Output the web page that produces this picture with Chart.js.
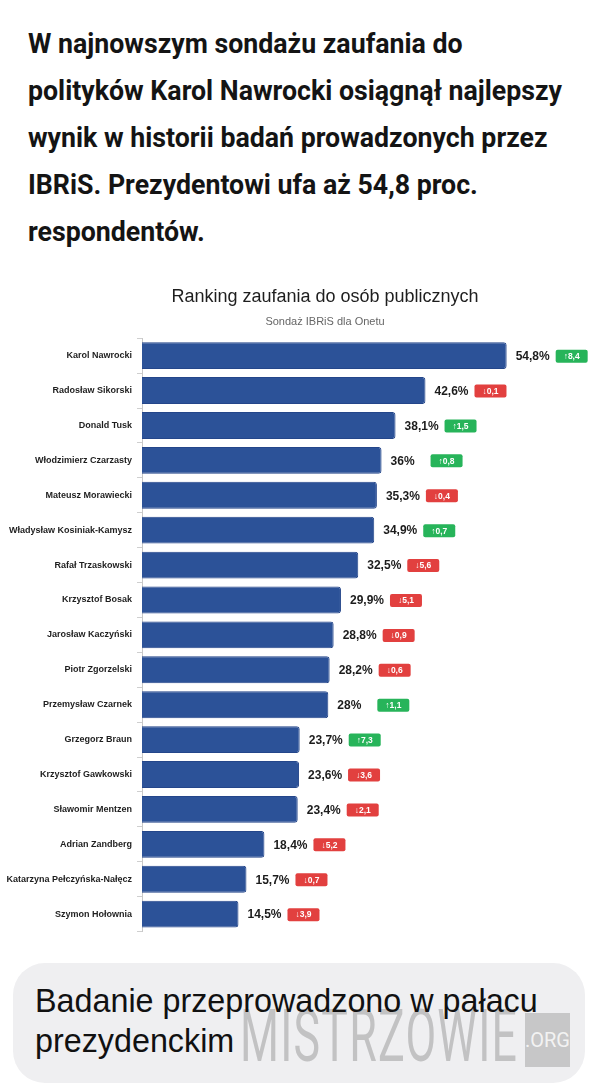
<!doctype html>
<html>

<head>
	<meta charset="utf-8">
	<title>Ranking zaufania do osób publicznych</title>
	<script src="https://cdn.jsdelivr.net/npm/chart.js@4/dist/chart.umd.min.js"></script>
	<style>
		html, body {
			margin: 0;
			padding: 0;
			background: #fff;
			width: 600px;
			height: 1091px;
			overflow: hidden;
			position: relative;
		}
		#hdr {
			position: absolute;
			left: 28px;
			top: 20px;
			font-family: Roboto, "Liberation Sans", sans-serif;
			font-weight: 700;
			font-size: 28px;
			line-height: 47px;
			color: #141414;
			transform-origin: 0 0;
		}
		#hdr div, #note div {
			width: max-content;
			white-space: nowrap;
		}
		#chartBox {
			position: absolute;
			left: 0;
			top: 270px;
			width: 600px;
			height: 672px;
		}
		#note {
			position: absolute;
			left: 13px;
			top: 963px;
			width: 572px;
			height: 120px;
			border-radius: 32px;
			background: #efeff1;
			overflow: hidden;
		}
		#noteText {
			position: absolute;
			left: 22px;
			top: 18px;
			font-family: "Liberation Sans", Arial, sans-serif;
			font-size: 31px;
			line-height: 40px;
			color: #111;
		}
		#wm {
			position: absolute;
			left: 227px;
			top: 44px;
			font-family: Roboto, sans-serif;
			font-size: 72px;
			line-height: 60px;
			color: rgba(140, 140, 140, 0.45);
			transform: scaleX(0.62);
			transform-origin: 0 0;
			letter-spacing: 2px;
		}
		#wmOrg {
			position: absolute;
			left: 512px;
			top: 50px;
			width: 50px;
			height: 54px;
			background: rgba(150, 150, 150, 0.45);
			color: rgba(255, 255, 255, 0.8);
			font-family: Roboto, sans-serif;
			font-size: 20px;
			line-height: 54px;
			text-align: center;
		}
	</style>
</head>

<body>
	<div id="hdr">
		<div id="l1">W najnowszym sondażu zaufania do</div>
		<div id="l2">polityków Karol Nawrocki osiągnął najlepszy</div>
		<div>wynik w historii badań prowadzonych przez</div>
		<div>IBRiS. Prezydentowi ufa aż 54,8 proc.</div>
		<div>respondentów.</div>
	</div>
	<div id="chartBox">
		<canvas id="canvas"></canvas>
	</div>
	<div id="note">
		<div id="wm">MISTRZOWIE</div>
		<div id="wmOrg">.ORG</div>
		<div id="noteText">
			<div id="n1">Badanie przeprowadzono w pałacu</div>
			<div>prezydenckim</div>
		</div>
	</div>
	<script>
		var people = [
			'Karol Nawrocki', 'Radosław Sikorski', 'Donald Tusk', 'Włodzimierz Czarzasty',
			'Mateusz Morawiecki', 'Władysław Kosiniak-Kamysz', 'Rafał Trzaskowski', 'Krzysztof Bosak',
			'Jarosław Kaczyński', 'Piotr Zgorzelski', 'Przemysław Czarnek', 'Grzegorz Braun',
			'Krzysztof Gawkowski', 'Sławomir Mentzen', 'Adrian Zandberg', 'Katarzyna Pełczyńska-Nałęcz',
			'Szymon Hołownia'
		];
		var trust = [54.8, 42.6, 38.1, 36, 35.3, 34.9, 32.5, 29.9, 28.8, 28.2, 28, 23.7, 23.6, 23.4, 18.4, 15.7, 14.5];
		var change = [8.4, -0.1, 1.5, 0.8, -0.4, 0.7, -5.6, -5.1, -0.9, -0.6, 1.1, 7.3, -3.6, -2.1, -5.2, -0.7, -3.9];

		var fmt = function(v) {
			return String(v).replace('.', ',');
		};

		// value + change badge next to every bar
		var barLabels = {
			id: 'barLabels',
			afterDatasetsDraw: function(chart) {
				var ctx = chart.ctx;
				var meta = chart.getDatasetMeta(0);
				ctx.save();
				meta.data.forEach(function(bar, i) {
					ctx.font = 'bold 12px "Liberation Sans", Arial, sans-serif';
					ctx.fillStyle = '#1c1c1c';
					ctx.textAlign = 'left';
					ctx.textBaseline = 'middle';
					ctx.fillText(fmt(trust[i]) + '%', bar.x + 9, bar.y + 1);

					var bx = bar.x + 49, bw = 32, bh = 13, by = bar.y - 6;
					ctx.fillStyle = change[i] >= 0 ? '#27b45a' : '#e2403f';
					ctx.beginPath();
					ctx.roundRect(bx, by, bw, bh, 2);
					ctx.fill();
					ctx.fillStyle = '#fff';
					ctx.textAlign = 'center';
					ctx.font = 'bold 8.5px "Liberation Sans", Arial, sans-serif';
					var arrow = change[i] >= 0 ? '\u2191' : '\u2193';
					ctx.fillText(arrow + fmt(Math.abs(change[i])), bx + bw / 2, by + bh / 2 + 0.5);
				});
				ctx.restore();
			}
		};

		var config = {
			type: 'bar',
			data: {
				labels: people,
				datasets: [{
					data: trust,
					backgroundColor: '#2c5298',
					borderColor: '#24468a',
					borderWidth: 1,
					borderRadius: 3,
					barPercentage: 0.77,
					categoryPercentage: 1
				}]
			},
			options: {
				indexAxis: 'y',
				responsive: true,
				maintainAspectRatio: false,
				animation: false,
				layout: {
					padding: { top: 0, right: 92, bottom: 6, left: 0 }
				},
				plugins: {
					legend: { display: false },
					tooltip: { enabled: false },
					title: {
						display: true,
						fullSize: false,
						text: 'Ranking zaufania do osób publicznych',
						color: '#1e1e1e',
						font: { family: '"Liberation Sans", Arial, sans-serif', size: 18, weight: 'normal' },
						padding: { top: 16, bottom: 4 }
					},
					subtitle: {
						display: true,
						fullSize: false,
						text: 'Sondaż IBRiS dla Onetu',
						color: '#666',
						font: { family: '"Liberation Sans", Arial, sans-serif', size: 11 },
						padding: { top: 4, bottom: 9.4 }
					}
				},
				scales: {
					x: {
						display: false,
						min: 0,
						max: 55
					},
					y: {
						afterFit: function(scale) {
							scale.width = 142;
						},
						border: { display: true, color: '#c8c8c8' },
						grid: { drawOnChartArea: false, drawTicks: true, tickLength: 5, color: '#cfcfcf' },
						ticks: {
							padding: 5,
							color: '#1e1e1e',
							font: { family: '"Liberation Sans", Arial, sans-serif', size: 9, weight: 'bold' }
						}
					}
				}
			},
			plugins: [barLabels]
		};

		window.onload = function() {
			var hdr = document.getElementById('hdr');
			var w = document.getElementById('l2').getBoundingClientRect().width;
			hdr.style.transform = 'scaleX(' + (534 / w) + ')';

			var nt = document.getElementById('noteText');
			var nw = document.getElementById('n1').getBoundingClientRect().width;
			nt.style.fontSize = (31 * 503 / nw) + 'px';

			window.myBar = new Chart(document.getElementById('canvas'), config);
		};
	</script>
</body>

</html>
